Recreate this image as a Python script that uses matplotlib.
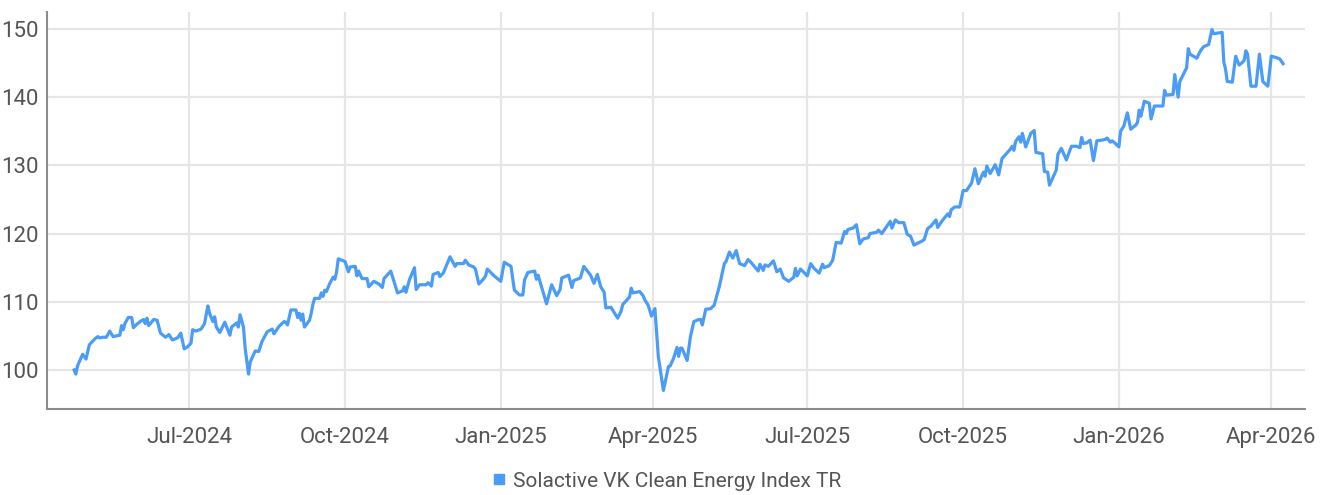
import matplotlib.pyplot as plt
import matplotlib.dates as mdates
import pandas as pd

plt.rcParams['font.family'] = ['Roboto', 'DejaVu Sans']

series_name = "Solactive VK Clean Energy Index TR"

dates = [
    "2024-04-24", "2024-04-25", "2024-04-26", "2024-04-29", "2024-05-01", "2024-05-03", "2024-05-06",
    "2024-05-08", "2024-05-09", "2024-05-11", "2024-05-13", "2024-05-15", "2024-05-17", "2024-05-19",
    "2024-05-21", "2024-05-22", "2024-05-23", "2024-05-24", "2024-05-26", "2024-05-28", "2024-05-29",
    "2024-05-31", "2024-06-02", "2024-06-04", "2024-06-05", "2024-06-06", "2024-06-07", "2024-06-10",
    "2024-06-12", "2024-06-14", "2024-06-17", "2024-06-19", "2024-06-21", "2024-06-24", "2024-06-26",
    "2024-06-28", "2024-06-30", "2024-07-02", "2024-07-03", "2024-07-05", "2024-07-08", "2024-07-10",
    "2024-07-12", "2024-07-13", "2024-07-15", "2024-07-16", "2024-07-17", "2024-07-19", "2024-07-22",
    "2024-07-25", "2024-07-26", "2024-07-29", "2024-07-30", "2024-07-31", "2024-08-02", "2024-08-03",
    "2024-08-05", "2024-08-06", "2024-08-09", "2024-08-11", "2024-08-13", "2024-08-16", "2024-08-19",
    "2024-08-20", "2024-08-23", "2024-08-26", "2024-08-27", "2024-08-28", "2024-08-30", "2024-09-02",
    "2024-09-03", "2024-09-04", "2024-09-05", "2024-09-06", "2024-09-07", "2024-09-08", "2024-09-10",
    "2024-09-11", "2024-09-12", "2024-09-13", "2024-09-16", "2024-09-17", "2024-09-18", "2024-09-19",
    "2024-09-20", "2024-09-22", "2024-09-24", "2024-09-25", "2024-09-26", "2024-09-27", "2024-10-01",
    "2024-10-03", "2024-10-04", "2024-10-07", "2024-10-08", "2024-10-09", "2024-10-11", "2024-10-14",
    "2024-10-15", "2024-10-18", "2024-10-21", "2024-10-23", "2024-10-24", "2024-10-28", "2024-11-01",
    "2024-11-04", "2024-11-05", "2024-11-06", "2024-11-08", "2024-11-11", "2024-11-12", "2024-11-14",
    "2024-11-18", "2024-11-19", "2024-11-21", "2024-11-22", "2024-11-25", "2024-11-26", "2024-11-28",
    "2024-12-02", "2024-12-05", "2024-12-06", "2024-12-10", "2024-12-11", "2024-12-13", "2024-12-16",
    "2024-12-17", "2024-12-19", "2024-12-22", "2024-12-23", "2024-12-24", "2024-12-28", "2025-01-01",
    "2025-01-03", "2025-01-07", "2025-01-09", "2025-01-12", "2025-01-14", "2025-01-15", "2025-01-17",
    "2025-01-21", "2025-01-22", "2025-01-23", "2025-01-25", "2025-01-28", "2025-01-31", "2025-02-03",
    "2025-02-05", "2025-02-06", "2025-02-10", "2025-02-12", "2025-02-13", "2025-02-17", "2025-02-19",
    "2025-02-23", "2025-02-25", "2025-02-27", "2025-03-01", "2025-03-03", "2025-03-04", "2025-03-07",
    "2025-03-11", "2025-03-13", "2025-03-14", "2025-03-18", "2025-03-19", "2025-03-20", "2025-03-22",
    "2025-03-24", "2025-03-26", "2025-03-27", "2025-03-29", "2025-03-31", "2025-04-02", "2025-04-04",
    "2025-04-07", "2025-04-10", "2025-04-11", "2025-04-13", "2025-04-15", "2025-04-16", "2025-04-17",
    "2025-04-18", "2025-04-21", "2025-04-23", "2025-04-25", "2025-04-28", "2025-04-29", "2025-04-30",
    "2025-05-02", "2025-05-05", "2025-05-07", "2025-05-08", "2025-05-10", "2025-05-13", "2025-05-14",
    "2025-05-16", "2025-05-18", "2025-05-20", "2025-05-22", "2025-05-25", "2025-05-27", "2025-05-29",
    "2025-06-02", "2025-06-03", "2025-06-05", "2025-06-06", "2025-06-08", "2025-06-11", "2025-06-13",
    "2025-06-15", "2025-06-17", "2025-06-20", "2025-06-23", "2025-06-24", "2025-06-25", "2025-06-27",
    "2025-07-01", "2025-07-03", "2025-07-05", "2025-07-08", "2025-07-10", "2025-07-11", "2025-07-14",
    "2025-07-16", "2025-07-18", "2025-07-21", "2025-07-23", "2025-07-24", "2025-07-25", "2025-07-28",
    "2025-07-30", "2025-08-01", "2025-08-03", "2025-08-06", "2025-08-07", "2025-08-11", "2025-08-12",
    "2025-08-14", "2025-08-19", "2025-08-20", "2025-08-22", "2025-08-24", "2025-08-27", "2025-08-29",
    "2025-08-31", "2025-09-02", "2025-09-05", "2025-09-06", "2025-09-08", "2025-09-10", "2025-09-12",
    "2025-09-15", "2025-09-16", "2025-09-19", "2025-09-22", "2025-09-23", "2025-09-24", "2025-09-26",
    "2025-09-29", "2025-10-01", "2025-10-03", "2025-10-06", "2025-10-08", "2025-10-10", "2025-10-13",
    "2025-10-14", "2025-10-15", "2025-10-17", "2025-10-20", "2025-10-22", "2025-10-24", "2025-10-29",
    "2025-10-30", "2025-10-31", "2025-11-01", "2025-11-03", "2025-11-04", "2025-11-05", "2025-11-07",
    "2025-11-10", "2025-11-12", "2025-11-13", "2025-11-17", "2025-11-18", "2025-11-20", "2025-11-21",
    "2025-11-25", "2025-11-26", "2025-11-28", "2025-12-01", "2025-12-02", "2025-12-04", "2025-12-07",
    "2025-12-09", "2025-12-10", "2025-12-11", "2025-12-13", "2025-12-15", "2025-12-17", "2025-12-19",
    "2025-12-22", "2025-12-24", "2025-12-25", "2025-12-27", "2025-12-28", "2025-12-30", "2026-01-01",
    "2026-01-02", "2026-01-04", "2026-01-06", "2026-01-08", "2026-01-11", "2026-01-12", "2026-01-13",
    "2026-01-14", "2026-01-16", "2026-01-19", "2026-01-20", "2026-01-22", "2026-01-27", "2026-01-28",
    "2026-01-29", "2026-02-02", "2026-02-03", "2026-02-05", "2026-02-06", "2026-02-09", "2026-02-10",
    "2026-02-11", "2026-02-12", "2026-02-16", "2026-02-18", "2026-02-20", "2026-02-23", "2026-02-25",
    "2026-02-26", "2026-03-03", "2026-03-04", "2026-03-05", "2026-03-06", "2026-03-09", "2026-03-11",
    "2026-03-13", "2026-03-15", "2026-03-16", "2026-03-17", "2026-03-18", "2026-03-20", "2026-03-23",
    "2026-03-25", "2026-03-27", "2026-03-30", "2026-04-01", "2026-04-04", "2026-04-06", "2026-04-08",
]

values = [
    100.0, 99.4, 100.6, 102.3, 101.6, 103.7, 104.5,
    104.9, 104.7, 104.8, 104.8, 105.7, 104.9, 105.0,
    105.1, 106.5, 105.9, 106.8, 107.7, 107.7, 106.2,
    106.7, 107.1, 107.4, 106.8, 107.6, 106.5, 107.4,
    107.3, 105.4, 104.8, 105.2, 104.4, 104.7, 105.4,
    103.1, 103.4, 103.9, 105.9, 105.7, 106.0, 106.8,
    109.4, 108.3, 107.1, 107.8, 106.3, 105.5, 107.0,
    105.1, 106.3, 106.9, 106.3, 108.1, 106.3, 103.2,
    99.4, 101.2, 102.8, 102.7, 104.2, 105.6, 106.0,
    105.3, 106.4, 107.1, 107.0, 106.6, 108.8, 108.8,
    107.7, 108.3, 107.3, 108.2, 106.3, 106.6, 107.3,
    108.3, 109.6, 110.5, 110.5, 111.3, 110.8, 111.7,
    111.5, 112.7, 113.6, 113.3, 114.4, 116.3, 115.9,
    114.4, 115.1, 115.2, 113.8, 114.5, 113.4, 113.4,
    112.2, 113.0, 112.6, 112.1, 113.4, 114.5, 111.3,
    111.6, 112.2, 111.4, 113.2, 115.0, 111.8, 112.5,
    112.5, 112.8, 112.3, 114.0, 114.3, 113.7, 114.2,
    116.6, 115.2, 115.6, 115.6, 116.1, 115.4, 115.1,
    114.8, 112.6, 113.4, 113.8, 114.8, 113.8, 113.0,
    115.8, 115.2, 111.7, 111.0, 111.0, 113.2, 114.3,
    114.5, 113.3, 113.9, 112.2, 109.7, 112.5, 110.9,
    111.8, 113.5, 113.9, 112.1, 113.1, 113.5, 115.2,
    113.9, 112.7, 114.0, 112.2, 111.4, 109.1, 109.2,
    107.6, 108.6, 109.6, 110.7, 112.0, 111.3, 111.4,
    111.5, 110.9, 110.3, 109.5, 107.9, 109.0, 102.0,
    97.0, 100.5, 100.6, 101.7, 103.3, 102.0, 103.2,
    103.2, 101.4, 104.9, 107.1, 107.4, 107.4, 106.6,
    108.9, 109.0, 109.5, 110.4, 112.2, 115.6, 115.9,
    117.3, 116.4, 117.5, 115.6, 115.3, 116.2, 115.7,
    114.5, 115.5, 114.6, 115.4, 115.2, 116.0, 114.4,
    114.8, 113.5, 113.0, 113.6, 114.9, 113.8, 114.8,
    113.8, 115.6, 114.9, 114.2, 115.5, 115.0, 115.3,
    116.1, 118.7, 118.6, 120.3, 120.0, 120.6, 120.8,
    121.3, 118.5, 119.2, 119.4, 120.0, 120.2, 120.5,
    120.0, 121.8, 120.8, 122.0, 121.6, 121.6, 119.9,
    119.6, 118.3, 118.7, 118.8, 119.1, 120.7, 121.1,
    122.0, 120.9, 122.0, 122.9, 122.5, 123.5, 123.9,
    123.9, 126.3, 126.3, 127.4, 129.5, 127.3, 129.0,
    128.4, 129.9, 128.8, 130.1, 128.6, 131.0, 132.4,
    132.8, 132.2, 133.5, 134.2, 133.4, 134.7, 132.7,
    134.7, 135.1, 131.9, 131.7, 129.1, 129.0, 127.1,
    129.3, 131.6, 132.5, 130.8, 131.5, 132.8, 132.8,
    132.6, 134.1, 133.2, 133.3, 133.7, 130.7, 133.6,
    133.7, 133.8, 134.0, 133.4, 133.6, 133.2, 132.7,
    135.0, 135.8, 137.7, 135.3, 135.9, 136.3, 138.1,
    137.2, 139.4, 139.1, 136.8, 138.7, 138.7, 141.0,
    140.3, 140.4, 143.3, 140.0, 142.3, 143.8, 144.3,
    147.1, 146.3, 145.7, 146.7, 147.4, 147.7, 149.9,
    149.3, 149.5, 145.1, 144.1, 142.3, 142.2, 146.0,
    144.7, 145.1, 145.4, 146.8, 146.3, 141.6, 141.6,
    146.3, 142.3, 141.6, 146.0, 145.8, 145.6, 144.9,
]

tick_dates = ["2024-07-01", "2024-10-01", "2025-01-01", "2025-04-01",
              "2025-07-01", "2025-10-01", "2026-01-01", "2026-04-01"]
y_ticks = [100, 110, 120, 130, 140, 150]

x = pd.to_datetime(dates)

fig = plt.figure(figsize=(13.25, 4.95), dpi=100)
ax = fig.add_axes([0.0355, 0.174, 0.9495, 0.802])

ax.plot(x, values, color='#4a9cf7', linewidth=2.3, label=series_name, zorder=3)

ax.set_xlim(pd.Timestamp("2024-04-08"), pd.Timestamp("2026-04-21"))
ax.set_ylim(94.3, 152.5)
ax.set_xticks(pd.to_datetime(tick_dates))
ax.xaxis.set_major_formatter(mdates.DateFormatter('%b-%Y'))
ax.set_yticks(y_ticks)

ax.grid(True, color='#e6e6e6', linewidth=1.6)
ax.set_axisbelow(True)
for side in ['top', 'right']:
    ax.spines[side].set_visible(False)
for side in ['left', 'bottom']:
    ax.spines[side].set_color('#8c8c8c')
    ax.spines[side].set_linewidth(1.5)

ax.tick_params(axis='both', length=0, labelsize=16, labelcolor='#555555')
ax.tick_params(axis='x', pad=13)
ax.tick_params(axis='y', pad=6)

# square legend marker, sitting close to its text
fig.legend(handles=[plt.Line2D([], [], color='#4a9cf7', marker='s', linestyle='none',
                               markersize=7.5)],
           labels=[series_name], loc='center', bbox_to_anchor=(0.503, 0.028),
           frameon=False, fontsize=15, labelcolor='#555555',
           handlelength=0.7, handletextpad=0.3, borderaxespad=0.0, borderpad=0.0)

fig.savefig('out.png', dpi=100)
